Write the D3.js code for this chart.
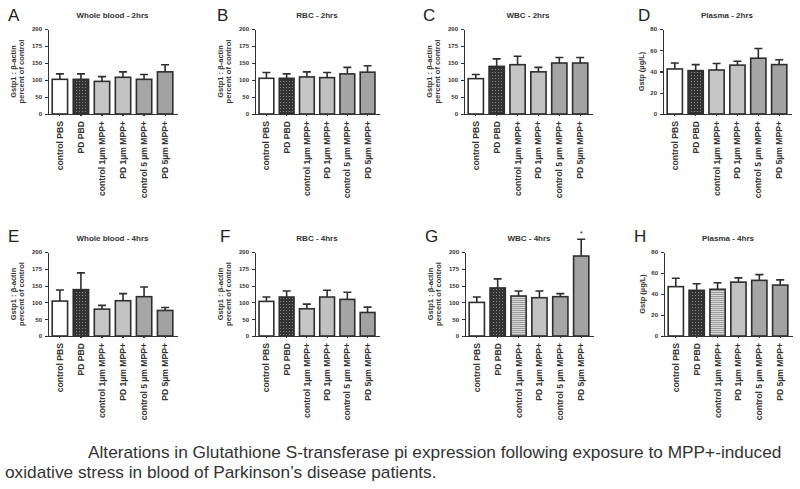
<!DOCTYPE html>
<html>
<head>
<meta charset="utf-8">
<title>Gstp1 in blood - MPP+</title>
<style>
body { margin: 0; background: #fff; }
svg { display: block; font-family: "Liberation Sans", Arial, sans-serif; }
.axis path, .axis line { stroke: #333; stroke-width: 1.2; shape-rendering: crispEdges; }
.axis text { fill: #333; font-size: 6px; font-weight: 700; }
.xaxis text { font-size: 8.6px; }
.title { font-size: 8px; font-weight: 700; fill: #333; }
.letter { font-size: 17px; fill: #222; }
.ylab { font-size: 7.5px; font-weight: 700; fill: #333; }
.bar { stroke: #2e2e2e; stroke-width: 1.6; }
.err { stroke: #2e2e2e; stroke-width: 1.6; fill: none; }
.caption { fill: #333; font-size: 17px; }
</style>
</head>
<body>
<div id="vis"></div>
<script src="https://cdnjs.cloudflare.com/ajax/libs/d3/7.8.5/d3.min.js"></script>
<script>

// categories (same on every panel)
var categories = ["control PBS", "PD PBD", "control 1\u00b5m MPP+", "PD 1\u00b5m MPP+", "control 5 \u00b5m MPP+", "PD 5\u00b5m MPP+"];

var letters = ["A", "B", "C", "D", "E", "F", "G", "H"];
var titles = ["Whole blood - 2hrs", "RBC - 2hrs", "WBC - 2hrs", "Plasma - 2hrs",
              "Whole blood - 4hrs", "RBC - 4hrs", "WBC - 4hrs", "Plasma - 4hrs"];

// tick values
var pctTicks = [0, 50, 100, 150, 175, 200];
var plasmaTicks = [0, 20, 40, 60, 80];

// means and error (SEM)
var meanA = [102, 102, 96, 108, 102, 124],   semA = [16, 16, 14, 16, 14, 21];
var meanB = [105, 105, 109, 107, 118, 123],  semB = [17, 13, 15, 15, 19, 19];
var meanC = [104, 140, 145, 124, 150, 150],  semC = [12, 16, 15, 13, 8, 8];
var meanD = [42.4, 40.8, 41.4, 46, 52.5, 46.5], semD = [5.6, 5.7, 6.1, 3.7, 9.1, 4.5];
var meanE = [104, 138, 80, 105, 117, 76],    semE = [33, 31, 11, 21, 29, 9];
var meanF = [103, 116, 81, 116, 109, 70],    semF = [13, 18, 14, 20, 21, 16];
var meanG = [100, 143, 119, 114, 117, 194],  semG = [16, 17, 15, 20, 9, 25];
var meanH = [47, 43.5, 44.5, 51.3, 53, 48.5], semH = [8, 6.2, 6.2, 4.1, 5.5, 5];

var caption1 = "Alterations in Glutathione S-transferase pi expression following exposure to MPP+-induced";
var caption2 = "oxidative stress in blood of Parkinson\u2019s disease patients.";

var width = 800, height = 489;

// panel layout
var axisX = [48, 255, 464, 663, 48, 255, 465, 664];
var plotW = [129, 124, 128, 128, 129, 124, 128, 128];
var letterX = [8, 217, 423, 638, 8, 220, 425, 634];
var rowTop = [29, 252], rowH = [85, 84];
var letterY = [21, 242];

var panels = [
  {mean: meanA, sem: semA, kind: "pct"},
  {mean: meanB, sem: semB, kind: "pct"},
  {mean: meanC, sem: semC, kind: "pct"},
  {mean: meanD, sem: semD, kind: "plasma"},
  {mean: meanE, sem: semE, kind: "pct"},
  {mean: meanF, sem: semF, kind: "pct"},
  {mean: meanG, sem: semG, kind: "pct", star: 5, stripe: true},
  {mean: meanH, sem: semH, kind: "plasma", stripe: true}
];

var svg = d3.select("#vis").append("svg")
    .attr("width", width)
    .attr("height", height);

// fill patterns
var defs = svg.append("defs");
var check = defs.append("pattern").attr("id", "check")
    .attr("patternUnits", "userSpaceOnUse").attr("width", 3).attr("height", 3);
check.append("rect").attr("width", 3).attr("height", 3).attr("fill", "#333");
check.append("rect").attr("x", 1).attr("y", 1).attr("width", 1).attr("height", 1).attr("fill", "#8a8a8a");

var stripe = defs.append("pattern").attr("id", "hstripe")
    .attr("patternUnits", "userSpaceOnUse").attr("width", 4).attr("height", 2);
stripe.append("rect").attr("width", 4).attr("height", 2).attr("fill", "#dadada");
stripe.append("rect").attr("width", 4).attr("height", 1).attr("fill", "#9a9a9a");

var fills = ["#ffffff", "url(#check)", "#c6c6c6", "#c2c2c2", "#a6a6a6", "#a2a2a2"];

panels.forEach(function(p, i) {
  var row = i < 4 ? 0 : 1;
  var top = rowTop[row], h = rowH[row], w = plotW[i];

  var g = svg.append("g")
      .attr("transform", "translate(" + axisX[i] + "," + top + ")");

  var x = d3.scaleBand()
      .domain(categories)
      .range([0, w])
      .paddingInner(0.27)
      .paddingOuter(0.2);

  var y;
  if (p.kind === "pct") {
    // segmented axis: 0-50-100-150 then 175, 200 at equal spacing
    y = d3.scaleLinear()
        .domain(pctTicks)
        .range(pctTicks.map(function(d, k) { return h - k * h / (pctTicks.length - 1); }));
  } else {
    y = d3.scaleLinear().domain([0, 80]).range([h, 0]);
  }

  // bars
  g.selectAll(".bar")
      .data(p.mean)
      .enter().append("rect")
      .attr("class", "bar")
      .attr("x", function(d, k) { return x(categories[k]); })
      .attr("width", x.bandwidth())
      .attr("y", function(d) { return y(d); })
      .attr("height", function(d) { return h - y(d); })
      .attr("fill", function(d, k) { return (k === 2 && p.stripe) ? "url(#hstripe)" : fills[k]; });

  // error bars (upper only)
  var cap = 4;
  g.selectAll(".err")
      .data(p.mean)
      .enter().append("path")
      .attr("class", "err")
      .attr("d", function(d, k) {
        var cx = x(categories[k]) + x.bandwidth() / 2;
        var yt = y(d + p.sem[k]);
        return "M" + cx + "," + y(d) + "V" + yt + "M" + (cx - cap) + "," + yt + "H" + (cx + cap);
      });

  if (p.star !== undefined) {
    var k = p.star;
    g.append("text")
        .attr("x", x(categories[k]) + x.bandwidth() / 2)
        .attr("y", y(p.mean[k] + p.sem[k]) - 3)
        .attr("text-anchor", "middle")
        .attr("font-size", 8)
        .attr("fill", "#333")
        .text("*");
  }

  // axes
  var yAxis = d3.axisLeft(y)
      .tickValues(p.kind === "pct" ? pctTicks : plasmaTicks)
      .tickSize(3)
      .tickSizeOuter(0)
      .tickPadding(3)
      .tickFormat(d3.format("d"));
  g.append("g").attr("class", "axis").call(yAxis);

  var xAxis = d3.axisBottom(x)
      .tickSize(2)
      .tickSizeOuter(0);
  var xa = g.append("g")
      .attr("class", "axis xaxis")
      .attr("transform", "translate(0," + h + ")")
      .call(xAxis);
  xa.selectAll("text")
      .attr("transform", "rotate(-90)")
      .attr("text-anchor", "end")
      .attr("x", -7)
      .attr("y", 0)
      .attr("dy", "0.35em");

  // title and panel letter
  svg.append("text")
      .attr("class", "title")
      .attr("x", axisX[i] + w / 2)
      .attr("y", top - 11)
      .attr("text-anchor", "middle")
      .text(titles[i]);

  svg.append("text")
      .attr("class", "letter")
      .attr("x", letterX[i])
      .attr("y", letterY[row])
      .text(letters[i]);

  // y label
  var yl = g.append("text")
      .attr("class", "ylab")
      .attr("transform", "rotate(-90)")
      .attr("x", -h / 2)
      .attr("text-anchor", "middle");
  if (p.kind === "pct") {
    yl.append("tspan").attr("x", -h / 2).attr("y", -32).text("Gstp1 : \u03b2-actin");
    yl.append("tspan").attr("x", -h / 2).attr("y", -24).text("percent of control");
  } else {
    yl.attr("y", -19).text("Gstp (\u00b5g/L)");
  }
});

// caption: condensed face, squeezed horizontally to the width it has in the picture
var capG1 = svg.append("g").attr("transform", "translate(88,458)");
var cap1 = capG1.append("text").attr("class", "caption").text(caption1);
var sx = 694 / cap1.node().getComputedTextLength();
capG1.attr("transform", "translate(88,458) scale(" + sx + ",1)");

svg.append("g")
    .attr("transform", "translate(5,478) scale(" + sx + ",1)")
  .append("text")
    .attr("class", "caption")
    .text(caption2);

</script>
</body>
</html>
